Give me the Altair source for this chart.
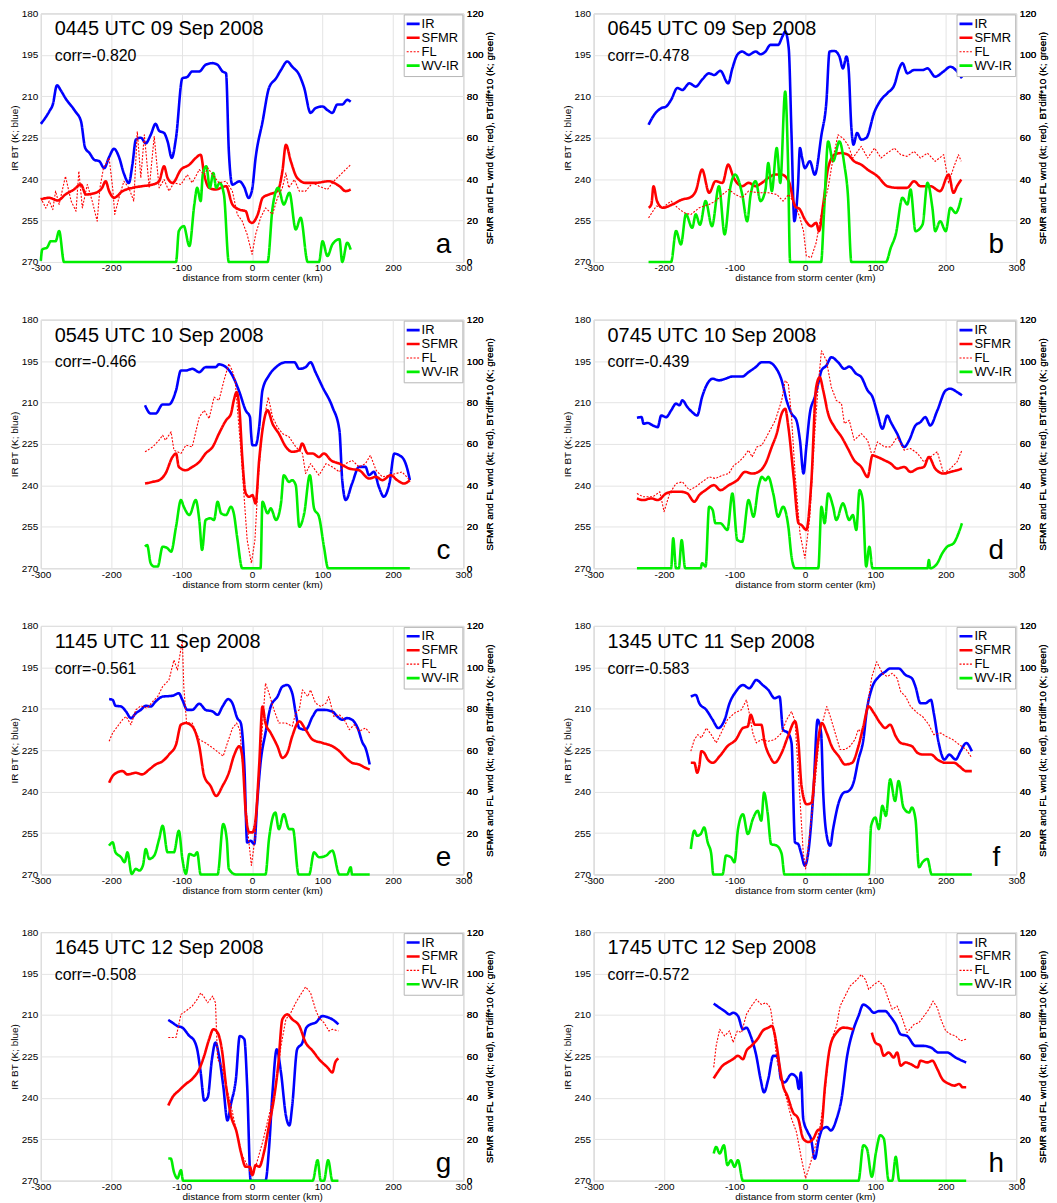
import altair as alt
import pandas as pd

FONT = "Liberation Sans"
SERIES = ["IR", "SFMR", "FL", "WV-IR"]
COLORS = ["#0000ff", "#ff0000", "#ff0000", "#00ee00"]
DASHES = [[1, 0], [1, 0], [2, 1.5], [1, 0]]

X_TICKS = [-300, -200, -100, 0, 100, 200, 300]
IR_TICKS = [180, 195, 210, 225, 240, 255, 270]
WIND_TICKS = [0, 20, 40, 60, 80, 100, 120]

LETTERS = ["a", "b", "c", "d", "e", "f", "g", "h"]
TIMES = ["0445 UTC 09 Sep 2008", "0645 UTC 09 Sep 2008", "0545 UTC 10 Sep 2008",
         "0745 UTC 10 Sep 2008", "1145 UTC 11 Sep 2008", "1345 UTC 11 Sep 2008",
         "1645 UTC 12 Sep 2008", "1745 UTC 12 Sep 2008"]
CORRS = ["-0.820", "-0.478", "-0.466", "-0.439", "-0.561", "-0.583", "-0.508", "-0.572"]

# ---------------- panel a ----------------
a_ir = [(-300,220),(-288,215.5),(-283,213),(-277,206),(-272,207.7),(-265,210.7),(-251,215.5),(-243,219),(-237,228.7),(-231,230.5),(-224,233),(-217,233.5),(-210,236),(-203,232),(-196,229),(-189,232),(-182,238),(-175,241.4),(-170,234.8),(-165,225.7),(-158,225),(-151,227),(-144,224),(-137,220),(-132,222.5),(-125,223.3),(-120,226.3),(-114,232.3),(-108,225),(-99,203.5),(-92,203),(-85,201),(-75,201),(-66,198.6),(-56,198),(-49,198.6),(-42,201),(-37,201.7),(-33,230),(-28,242),(-18,240.8),(-11,243),(-5,246.8),(0,243.8),(5,232.3),(15,219),(24,207),(34,203.5),(41,200.5),(50,197.4),(57,199.3),(67,202.3),(74,207),(83,216),(90,214.3),(100,213.7),(107,215),(114,216),(121,213),(128,213),(135,211.3),(140,212)]
a_sfmr = [(-300,30.2),(-288,31),(-276,29.7),(-265,32.6),(-253,35),(-243,37.4),(-236,32.6),(-222,33.4),(-213,35.8),(-208,39),(-203,34.2),(-196,31),(-184,34.2),(-170,35.8),(-156,36.6),(-141,37.4),(-132,39),(-125,46.2),(-120,40.6),(-113,38.2),(-101,44.6),(-89,47),(-80,50.2),(-73,51.8),(-68,42.2),(-61,35.8),(-52,35),(-37,36.6),(-28,27.8),(-18,25.3),(-9,24.5),(-4,19.7),(0,18.9),(8,22.9),(15,31),(24,32.6),(36,34.2),(43,43.8),(48,56.6),(55,48.6),(64,40.6),(76,38.2),(90,38.2),(109,39),(124,36.6),(133,34.2),(140,35)]
a_fl = [(-300,31),(-293,26),(-288,29.4),(-283,25.3),(-279,34.2),(-274,27.8),(-265,41.4),(-257,29.4),(-250,24.5),(-246,43.8),(-241,26.1),(-234,37.4),(-227,29.4),(-220,19.7),(-216,35.8),(-211,45.4),(-203,50.2),(-198,35.8),(-195,23),(-189,31),(-182,39),(-175,35.8),(-168,29.4),(-163,63),(-158,40.6),(-153,61.4),(-146,35.8),(-139,60.6),(-132,35.8),(-125,39.8),(-118,34.2),(-111,38.2),(-101,37.4),(-92,42.2),(-85,38.2),(-75,44.6),(-68,42.2),(-63,45.4),(-56,42.2),(-47,38.2),(-37,39),(-28,34.2),(-21,23),(-14,19.7),(-7,13.3),(0,3.7),(5,13.3),(12,21.3),(19,26.1),(29,23),(36,31),(43,35.8),(48,43),(52,35.8),(60,39.8),(67,34.2),(76,34.2),(86,38.2),(95,36.6),(107,35),(116,39),(128,43),(140,47)]
a_wv = [(-300,0.5),(-298,6),(-291,7),(-286,10),(-279,10),(-274,15),(-267,0),(-108,0),(-104,15),(-97,17.3),(-89,7.7),(-82,27.8),(-78,35.8),(-73,29.4),(-70,42.2),(-65,46.2),(-60,35.8),(-55,43),(-51,35.8),(-46,38.2),(-40,32.6),(-33,0),(22,0),(29,26),(37,35.8),(45,27.8),(53,33.4),(62,15.7),(69,21.3),(79,0),(95,0),(100,10),(107,2.9),(114,8.5),(124,11),(128,0),(135,9.3),(140,6)]

# ---------------- panel b ----------------
b_ir = [(-222,220.3),(-214,216.7),(-204,214.3),(-197,213.7),(-190,211.3),(-181,207),(-174,207.7),(-164,205.3),(-155,206.5),(-146,204),(-136,201.7),(-129,202.3),(-120,200.8),(-109,205.3),(-103,199.9),(-96,195),(-89,193.8),(-80,195),(-70,193.8),(-63,194.8),(-56,193.8),(-49,191.4),(-38,191.4),(-32,188.4),(-28,186.6),(-23,192.6),(-19,223.9),(-15,255.2),(-10,243.2),(-7,228.7),(-4,232.3),(0,236),(7,233.5),(14,238.4),(23.5,224),(30.5,212),(35,193.8),(42,193.6),(49,195.6),(54,199.9),(59,195.6),(62,199.9),(66,221.5),(69,227.5),(74,223.3),(80,225.7),(87,225.1),(99,215.5),(108,211.3),(117,208.9),(127,205.9),(134,199.9),(138.5,198),(145.5,201.7),(155,200.5),(167,200.5),(174,199.9),(185,202.9),(197,201),(206.5,199.3),(216,201),(223,203.5)]
b_sfmr = [(-222,26.2),(-218,27.8),(-215,36.6),(-210,29.4),(-202,26.2),(-188,27.8),(-174,30.2),(-164,31),(-155,34.2),(-146,44.6),(-136,33.4),(-127,39),(-117,38.2),(-109,47),(-101,40.6),(-89,36.6),(-80,38.2),(-70,36.6),(-61,38.2),(-52,40.6),(-42,42.2),(-33,42.2),(-23,39),(-14,27),(-7,25.3),(0,20.5),(9,17.3),(16,18.9),(20,14.9),(26,27.8),(33,45.4),(42,51.8),(52,52.6),(61,51.8),(70,48.6),(80,47),(89,44.6),(103,41.4),(117,36.6),(131,35.8),(145,35.8),(155,39),(164,36.6),(178,36.6),(192,34.2),(204,42.2),(211,33.4),(216,36.6),(222,39.8)]
b_fl = [(-222,21.3),(-211,27),(-202,26.2),(-190,29.4),(-181,26.2),(-171,23.7),(-162,22.9),(-150,26.2),(-136,27.8),(-127,29.4),(-117,32.6),(-108,35),(-99,32.6),(-89,31),(-80,34.2),(-66,33.4),(-52,33.4),(-40,32.6),(-31,29.4),(-23,32.6),(-14,27.8),(-7,21.3),(-2,14.9),(2,2.9),(9,2.1),(16,9.3),(23,22.9),(33,35.8),(40,50.2),(47,61.4),(54,59.8),(61,56.6),(68,50.2),(80,55.8),(89,50.2),(99,55),(108,50.2),(117,52.6),(127,55),(136,51.8),(145,51),(155,53.4),(164,50.2),(174,52.6),(185,48.6),(197,51.8),(204,38.2),(211,45.4),(218,51.8),(222,48.6)]
b_wv = [(-222,0),(-190,0),(-183,15),(-176,8.5),(-169,23),(-160,16.5),(-155,23),(-149,18),(-141,29.4),(-132,17.3),(-122,36.6),(-114,13.3),(-106,35.8),(-99,42.2),(-89,32.6),(-82,19.7),(-77,32.6),(-70,39),(-63,29.4),(-56,35),(-52,47.8),(-47,34.2),(-40,55),(-35,38.2),(-28,82.3),(-24,48.6),(-21,0),(23,0),(27,23),(33,58.2),(40,48.6),(49,58.2),(56,47),(61,32.6),(66,0),(115,0),(122,6.9),(129,13.3),(138.5,31),(145.5,27.8),(150,35),(157,14.9),(167,18),(174,38.2),(181,26.2),(185,14.9),(192,19.7),(200,14.9),(206.5,26.2),(214,23.7),(222,31)]

# ---------------- panel c ----------------
c_ir = [(-152,211),(-144,214),(-137,214),(-127,210.7),(-118,210.7),(-108,205.6),(-101,198.4),(-94,198.4),(-85,197.8),(-75,199),(-66,197.2),(-52,197.2),(-47,196.2),(-37,197.2),(-28,200.2),(-18,206.2),(-9,212.9),(-3,215.3),(-1.4,221.3),(0.5,225.5),(5,225.5),(10,218.9),(14.7,205.6),(24,200.2),(34,197.2),(48,195.4),(60,195.4),(67,197.8),(76,197.2),(83,195.4),(90,199),(100,204.4),(114,211.6),(124,220.1),(128,238.1),(133,245.3),(142,239.3),(152,233.3),(161,233.3),(166,236.3),(173,235.1),(180,240.5),(187,244.1),(195,239.3),(202,228.5),(209,229.1),(216,230.9),(222,235.7),(224,238.1)]
c_sfmr = [(-152,40.9),(-141,41.7),(-132,42.5),(-123,45.7),(-113,53.7),(-108,55.4),(-104,48.9),(-94,47.3),(-85,48.9),(-75,51.3),(-66,55.4),(-56,58.6),(-47,65),(-37,71.4),(-30,74.6),(-26,81),(-22,85),(-17.5,74.6),(-14,53.7),(-9,36.1),(-4,34.5),(0.5,35.3),(5,31.3),(10,52.1),(14.7,66.6),(22,76.2),(29,69.8),(38,65),(48,58.6),(57,56.2),(67,57),(71,60.2),(79,55.4),(86,55.4),(95,53.7),(102,55.4),(112,52.1),(124,50.5),(138,48.1),(152,47.3),(166,43.3),(176,44.1),(185,42.5),(197,44.9),(206,42.5),(216,40.9),(224,42.5)]
c_fl = [(-152,56.2),(-141,58.6),(-132,61.8),(-127,64.2),(-123,61.8),(-115,65.8),(-111,57),(-101,55.4),(-94,59.4),(-85,58.6),(-75,73),(-68,76.2),(-61,72.2),(-54,82.6),(-47,81),(-40,90.6),(-33,98.7),(-28,95.4),(-24,90.6),(-21,77.8),(-16,57),(-11,32.9),(-7,13.6),(-1,2.4),(4,13.6),(9,44.1),(14.7,68.2),(23,82.6),(29,73),(36,68.2),(43,65),(52.5,63.4),(62,58.6),(71.5,55.4),(76,45.7),(83,50.5),(95,44.9),(105,50.5),(114,48.9),(124,46.5),(133,50.5),(142,52.1),(152,48.9),(161,50.5),(168,54.5),(176,47.3),(185,44.1),(195,44.9),(204,45.7),(213,46.5),(224,42.5)]
c_wv = [(-152,10.4),(-149,11.2),(-144,2.4),(-139,0.8),(-134,0.8),(-127,10.4),(-120,9.6),(-115,8),(-108,20),(-101,32.9),(-97,29.7),(-89,25.7),(-80,32.9),(-75,23.3),(-71,8.8),(-66,23.3),(-59,24.1),(-54,23.3),(-49,32.1),(-44,26.5),(-37,25.7),(-30,29.7),(-26,26.5),(-21,14.4),(-14,0),(12,0),(14.7,32.1),(22,26.5),(26.5,28.9),(34,23.3),(41,31.3),(45,44.9),(52.5,41.7),(57,42.5),(62,40.1),(67,20),(74,26.5),(82,44.9),(88,28.9),(95,24.9),(102,10.4),(108,0),(224,0)]

# ---------------- panel d ----------------
d_ir = [(-238.5,215.5),(-232,215.3),(-229,217.7),(-223,217.4),(-216,218.3),(-209,218.9),(-204,214.7),(-197,215.3),(-190,212.9),(-183,210.4),(-178,211),(-174,209.2),(-167,211.6),(-160,213.5),(-153,214.7),(-146,208),(-138.5,203.2),(-131,201.4),(-122,202),(-113,201.4),(-103,200.6),(-89,200.6),(-80,199),(-70,197.2),(-61,195.4),(-52,195.4),(-42,197.2),(-33,202),(-26,209.2),(-19,214),(-12,216.5),(-7,223.7),(-2,235.7),(2,226.1),(7,214),(14,208),(20,202),(23.5,198.4),(30.5,196.6),(37.5,193.6),(47,195.4),(56,197.8),(63,197),(73,199.6),(80,200.8),(89,205.6),(96,208),(103,214),(110,219.5),(117,214.7),(122,217.1),(131,221.3),(141,226.1),(148,223.7),(157,218.3),(164,217.1),(171,215.3),(178,218.3),(188,212.9),(200,205.6),(206.5,205),(216,206.2),(223,207.4)]
d_sfmr = [(-238.5,33.7),(-230,32.9),(-218,33.7),(-209,32.9),(-197,36.1),(-188,36.9),(-176,36.9),(-167,36.1),(-157,32.1),(-150,35.3),(-141,37.7),(-129,40.1),(-120,37.7),(-108,40.1),(-96,42.5),(-85,46.5),(-75,45.7),(-66,46.5),(-56,50.5),(-47,58.6),(-40,65),(-33,74.6),(-28,77),(-23.5,68.2),(-16,44.1),(-9,21.7),(-5,20.9),(2,18.5),(9,40.9),(16,87.4),(21,92.2),(26,85.8),(33,74.6),(42,68.2),(52,63.4),(61,57.8),(70,52.1),(80,48.9),(89,44.1),(96,54.5),(103,53.7),(113,52.1),(122,50.5),(131,48.1),(141,48.9),(150,46.5),(160,48.1),(169,48.9),(176,53.7),(185,48.1),(197,45.7),(206.5,46.5),(216,47.3),(223,48.1)]
d_fl = [(-238.5,36.1),(-230,34.5),(-216,34.5),(-206,36.9),(-200,27.3),(-192,36.1),(-183,40.9),(-174,41.7),(-164,37.7),(-155,39.3),(-146,41.7),(-136,44.1),(-127,43.3),(-117,44.9),(-108,45.7),(-101,49.7),(-94,51.3),(-87,53.7),(-80,57),(-75,53.7),(-68,58.6),(-61,59.4),(-52,65),(-42,71.4),(-33,81),(-28,90.6),(-23.5,89),(-19,73),(-14,45.7),(-7,16.8),(0,4.8),(7,24.9),(14,65),(19,89),(23.5,105),(30.5,100.3),(37.5,87.4),(44.6,81),(52,79.4),(56,69.8),(63,71.4),(70,61.8),(80,65),(89,61.8),(96,53.7),(103,61),(113,58.6),(122,58.6),(131,63.4),(141,57),(150,57.8),(160,55.4),(169,51.3),(178,53.7),(188,56.2),(197,45.7),(206.5,48.1),(216,51.3),(223,57)]
d_wv = [(-238.5,0),(-190,0),(-187,14.4),(-183,0),(-179,0),(-175,13.6),(-170,0),(-148,0),(-146,2.4),(-141,0.8),(-136,29.7),(-131,28.1),(-127,21.7),(-120,21.7),(-110,18.5),(-103,36.1),(-96,13.6),(-89,12.8),(-80,32.9),(-73,24.9),(-66,39.3),(-61,44.1),(-56,42.5),(-52,44.1),(-45,36.1),(-38,24.9),(-31,29.7),(-23.5,20),(-19,5.6),(-14,0),(19,0),(23.5,29.7),(28,21.7),(33,36.1),(40,29.7),(44.6,23.3),(54,31.3),(63,23.3),(68,25.7),(73,18.5),(77.5,37.7),(82,32.9),(87,0.8),(91.5,10.4),(96,0),(174,0),(176,4),(178,0),(188,2.4),(195,7.2),(202,10.4),(211,12),(218,16.8),(223,21.7)]

# ---------------- panel e ----------------
e_ir = [(-203,206.5),(-198,206.8),(-194,208.9),(-186,209.2),(-179,211),(-172,213.4),(-165,211.6),(-158,210.4),(-151,208.9),(-144,209.2),(-137,207.4),(-127,205.6),(-113,205.3),(-104,204.4),(-99,206.8),(-92,210.4),(-85,210.4),(-75,208.2),(-66,210.4),(-56,211),(-49,212.2),(-42,209.2),(-34,206.5),(-28,208),(-21,213.4),(-16,215.2),(-11,230.8),(-7,258.4),(-2,257.8),(3,259),(7.6,242.8),(12,229.6),(19,218.8),(26.5,209.2),(36,205.6),(43,202),(50,201.4),(57,204.4),(62,211.6),(67,217),(76,217.6),(86,212.8),(93,210.4),(102,210.4),(114,211),(121,212.8),(128,214),(135,213.4),(142,214),(150,217),(157,222.4),(161,224.2),(167,230.2)]
e_sfmr = [(-203,44.3),(-196,48.3),(-184,49.9),(-177,48.3),(-165,49.1),(-156,48.3),(-146,50.7),(-137,53.1),(-127,54.7),(-118,57.9),(-108,62.7),(-101,72.3),(-94,73.1),(-85,71.5),(-75,61.9),(-68,47.5),(-59,42.7),(-51,37.9),(-42,42.7),(-33,49.1),(-26,57.1),(-18,61.9),(-14,57.1),(-9,29.9),(-4,20.3),(0.5,20.3),(5,26.7),(10,52.3),(14.7,81.1),(19,73.1),(26.5,68.3),(36,61.9),(43,56.3),(50,58.7),(57,66.7),(67,73.9),(76,69.9),(86,65.1),(100,63.5),(114,61.9),(124,59.5),(133,56.3),(142,53.9),(152,53.1),(161,51.5),(167,50.7)]
e_fl = [(-203,64.3),(-198,68.3),(-191,71.5),(-184,74.7),(-179,76.3),(-172,72.3),(-165,79.5),(-158,81.4),(-149,80.3),(-141,83.5),(-134,85.9),(-127,90.7),(-118,93.9),(-111,103.5),(-106,98.7),(-99,113.1),(-97,90.7),(-93,73.1),(-85,73.1),(-75,65.1),(-66,63.5),(-56,61.1),(-47,58.7),(-41,57.1),(-35,63.5),(-28,70.5),(-22,73.1),(-17.5,69.9),(-11,42.7),(-5,17.1),(-1,4.3),(4,17.1),(10,47.5),(14.7,71.5),(19,92.3),(24,87.5),(31,79.5),(38,73.1),(48,73.1),(57,71.5),(62,78),(67,79.5),(71.5,89.1),(79,85.9),(83,89.1),(90,82.7),(97.5,81.1),(105,82.7),(109,85.9),(116,76.3),(124,77.1),(131,74.7),(138,69.9),(145,72.3),(152,69.1),(161,70.7),(167,68.3)]
e_wv = [(-203,13.9),(-198,15.5),(-194,10.7),(-186,8.3),(-181,5.9),(-177,10.7),(-171,0.3),(-165,2.7),(-160,1.9),(-155,4.3),(-151,12.3),(-146,7.5),(-139,9.1),(-132,17.1),(-127,23.5),(-120,10.7),(-111,10.7),(-104,21.1),(-99,7.5),(-94,0.3),(-89,9.9),(-82,9.1),(-78,10.7),(-73,0),(-49,0),(-41,24.3),(-36,17.1),(-33,2.7),(-23,0),(19,0),(24,17.1),(33,29.9),(38,21.9),(45,29.1),(52.5,21.9),(58,21.9),(66,0),(81,0),(88,10.7),(95,8.3),(105,9.1),(114,11.5),(124,0),(135,0),(140,3.5),(142,0),(167,0)]

# ---------------- panel f ----------------
f_ir = [(-162,205.6),(-155,205),(-150,208),(-140,210.4),(-131,214),(-123,217),(-114,214),(-107,208),(-98,203.8),(-88,201.4),(-79,202.6),(-69,199.6),(-60,201.4),(-52,203.2),(-43,206.2),(-36,205.6),(-31,217.6),(-24,218.8),(-19,222.4),(-14,258.4),(-9.5,259),(-5.7,262),(0,266.8),(4.8,262),(12,240.4),(18,214),(23,218.8),(26,240.4),(31,256),(36,259.6),(40,253.6),(48,244),(55,240.4),(62,239.8),(69,236.8),(76,228.4),(83,221.2),(88,210.4),(95,202.6),(105,198.4),(114,196.6),(121,195.4),(133,195.4),(143,197.8),(152,199),(157,202),(164,208),(171,208),(179,206.8),(183,211.6),(190,222.4),(198,228.4),(205,226.6),(214,228.4),(221,225.4),(229,222.4),(237,225.4)]
f_sfmr = [(-162,53.9),(-157,53.9),(-153,49.1),(-150,52.3),(-147,59.5),(-143,58.7),(-138,55.5),(-131,53.9),(-121,57.1),(-110,61.9),(-98,65.1),(-88,70.7),(-81,71.5),(-77,77.1),(-71,72.3),(-62,72.3),(-57,63.5),(-50,57.1),(-43,53.9),(-33,58.7),(-24,66.7),(-14,73.9),(-9.5,65.1),(-4.8,42.7),(2.4,33.9),(9.5,34.7),(14,49.1),(19,65.1),(24,73.1),(31,68.3),(38,61.9),(48,57.1),(57,53.1),(67,53.9),(76,61.9),(83,71.5),(90.5,81.1),(98,77.9),(107,73.1),(114,70.7),(121,72.3),(129,66.7),(136,63.5),(145,62.7),(152,61.9),(160,58.7),(167,57.9),(179,57.9),(188,55.5),(200,53.9),(212,53.9),(219,52.3),(229,49.9),(237,49.9)]
f_fl = [(-162,59.5),(-157,65.1),(-152,67.5),(-147,65.9),(-140,70.7),(-133,67.5),(-126,63.5),(-119,68.3),(-110,74.7),(-100,77.9),(-90,79.5),(-83,84.3),(-79,77.9),(-74,68.3),(-69,63.5),(-62,65.1),(-52,64.3),(-43,65.1),(-33,68.3),(-26,74.7),(-19,78.7),(-14,73.9),(-7,36.3),(-2.4,10.7),(1,2.7),(7,20.3),(14,42.7),(21,68.3),(26,74.7),(31,81.1),(36,76.3),(43,68.3),(50,60.3),(57,60.3),(64,61.9),(71,65.1),(76,70.1),(81,68.3),(88,79.5),(95,95.5),(102,102.7),(110,97.1),(117,95.5),(124,97.1),(131,94.7),(136,88.3),(143,85.9),(150,81.1),(160,77.9),(167,76.3),(176,72.3),(183,67.5),(193,68.3),(200,66.7),(210,65.1),(219,62.7),(229,60.3),(237,56.3)]
f_wv = [(-162,12.3),(-157,21.1),(-153,18.7),(-148,19.5),(-143,22.7),(-138,15.5),(-133,9.9),(-130,0),(-117,0),(-112,9.1),(-105,8.3),(-100,5.9),(-95,21.9),(-88,29.1),(-81,19.5),(-74,26.7),(-67,30.7),(-62,25.9),(-58,39.5),(-53,29.9),(-48,14.7),(-40,13.9),(-33,9.9),(-29,0),(90.5,0),(94,23.5),(100,27.5),(105,21.9),(110,33.1),(115,28.3),(121,45.9),(128,35.5),(133,45.1),(140,32.3),(148,29.9),(152,32.3),(157,26.7),(162,3.5),(167,5.9),(174,7.5),(180,0),(237,0)]

# ---------------- panel g ----------------
g_ir = [(-119,211.8),(-113,212.8),(-106,214),(-99,214.6),(-89,217.6),(-82,219.4),(-78,222.4),(-73,230.8),(-68,241),(-63,239.8),(-57,226),(-52,220),(-47,224.8),(-41,235.6),(-35,248.2),(-30,242.2),(-23,233.2),(-17.5,217.6),(-11,218.8),(-7,235.6),(-2,270),(19,270),(24,258.4),(29,238),(35,222.4),(41,230.8),(48,246.4),(53,250),(57,242.8),(64,222.4),(71.5,220),(77,214.6),(83,213.4),(90,212.8),(100,210.4),(109,211),(114,211.6),(122.6,213.4)]
g_sfmr = [(-119,36.3),(-113,40.3),(-104,43.5),(-94,46.7),(-85,49.1),(-75,53.9),(-68,60.3),(-61,68.3),(-55,73.1),(-49,71.5),(-43,63.5),(-37,45.9),(-30,31.5),(-22,23.5),(-16,13.9),(-9,6.7),(-3,6.7),(0.5,2.7),(5,7.5),(10,6.7),(17,13.9),(24,26.7),(31,39.5),(37,55.5),(43,77.9),(50,80.3),(57,77.9),(67,74.7),(76,66.7),(86,62.7),(95,58.7),(107,54.7),(114,52.3),(118,57.1),(122.6,59)]
g_fl = [(-119,69.1),(-108,69.1),(-101,80.3),(-94,81.9),(-85,84.3),(-78,87.5),(-73,90.7),(-69,89.1),(-63,85.9),(-56,89.1),(-52,85.9),(-49,58.7),(-43,55.5),(-37,45.9),(-30,36.3),(-22,23.5),(-14,12.3),(-7,7.5),(-1,2.7),(5,6.7),(15,18.7),(24,31.5),(34,45.9),(41,65.1),(48,77.9),(55,81.1),(62,85.9),(69,89.9),(76,93.6),(83,90.7),(90,82.7),(95,78.7),(102,76.3),(109,72.3),(114,73.1),(122.6,72.3)]
g_wv = [(-119,10.7),(-115.5,10.7),(-111,4.3),(-106,1.1),(-101,5.1),(-98,0),(86,0),(93,9.9),(97.5,0),(102,0),(108,9.9),(114,0),(122.6,0)]

# ---------------- panel h ----------------
h_ir = [(-129.5,205.9),(-121,207.4),(-114,208.6),(-107,209.8),(-102,209.2),(-95,210.4),(-88,215.2),(-83,214.6),(-77,217.6),(-69,224.8),(-63,233.2),(-58,238),(-52,233.2),(-45,224.8),(-39,224.8),(-34,233.2),(-29,234.4),(-19,231.4),(-12,232.6),(-8.6,236.8),(-5.7,230.8),(-2.4,247.6),(4,252.4),(8.6,254.8),(14,262),(20,254.8),(25,251.2),(31,250.6),(37,251.8),(45,247.6),(52,240.4),(60,224.8),(69,215.2),(76,210.4),(83,206.2),(90.5,207.4),(98,209.2),(105,208.6),(114,208.6),(121,210.4),(129,213.4),(136,217),(145,217.6),(157,221.2),(169,221.2),(179,221.8),(190,223.6),(202,223.6),(214,225.4),(229,227.2)]
h_sfmr = [(-129.5,49.4),(-124,52.3),(-117,55.5),(-110,57.1),(-102,58.7),(-95,60.3),(-88,58.7),(-83,62.7),(-76,65.1),(-67,68.5),(-60,72.3),(-52,73.9),(-47,74.7),(-40,65.1),(-36,55.5),(-31,45.9),(-25,41.1),(-17,33.1),(-9.5,29.9),(-2.4,20.3),(4.8,18.7),(12,20.3),(18,24.3),(23,25.1),(28.6,45.9),(36,65.1),(45,71.5),(55,73.9),(69,73.1),None,(95,71.5),(100,66.7),(107,65.1),(112,60.3),(119,61.9),(126,59.5),(131,61.9),(136,55.5),(143,57.1),(150,56.3),(160,54.7),(164,57.9),(174,57.1),(181,57.9),(188,53.9),(195,49.1),(205,46.7),(212,45.9),(219,46.7),(224,45.1),(229,45.1)]
h_fl = [(-129.5,54.7),(-126,65.1),(-121,73.1),(-114,69.9),(-107,72.3),(-102,66.7),(-96,72.3),(-90,71.5),(-83,80.3),(-76,84.3),(-69,87.5),(-62,85.1),(-55,85.9),(-49,83.5),(-45,74.7),(-40,58.7),(-33,47.5),(-26,39.5),(-19,29.9),(-12,23.5),(-5,10.7),(1,1.1),(7,7.5),(14,15.5),(21,25.1),(28.6,42.7),(33,58.7),(38,68.3),(45,74.7),(50,84.3),(57,89.1),(64,93.9),(74,97.1),(80,99.5),(86,97.1),(90.5,92.3),(98,94.7),(105,96.3),(112,93.9),(117,89.1),(124,82.7),(131,84.3),(138,78.7),(145,71.5),(155,75.5),(162,76.3),(169,79.5),(176,82.7),(182,86.7),(188,83.5),(193,77.9),(200,72.3),(207,70.7),(214,69.9),(221,67.5),(229,68.3)]
h_wv = [(-129.5,13.1),(-126,16.3),(-121,13.1),(-115,17.1),(-110,7.5),(-105,9.9),(-100,6.7),(-95,9.9),(-88,0),(76,0),(83,17.1),(88,15.5),(95,1.9),(101,13.9),(107,21.9),(112,20.3),(119,0),(124,0),(129,11.5),(134,0),(229,0)]

PANEL_DATA = [
    (a_ir, a_sfmr, a_fl, a_wv), (b_ir, b_sfmr, b_fl, b_wv),
    (c_ir, c_sfmr, c_fl, c_wv), (d_ir, d_sfmr, d_fl, d_wv),
    (e_ir, e_sfmr, e_fl, e_wv), (f_ir, f_sfmr, f_fl, f_wv),
    (g_ir, g_sfmr, g_fl, g_wv), (h_ir, h_sfmr, h_fl, h_wv),
]

PW, PH = 425, 250
THICK, THIN = 2.6, 1.1


def build_frame(series_lists):
    rows = []
    for name, pts in zip(SERIES, series_lists):
        seg = 0
        for i, p in enumerate(pts):
            if p is None:
                seg += 1
                continue
            rows.append({"x": p[0], "v": p[1], "series": name,
                         "seg": f"{name}-{seg}", "i": i})
    return pd.DataFrame(rows)


def make_panel(letter, time, corr, lists):
    df = build_frame(lists)
    xenc = alt.X("x:Q", scale=alt.Scale(domain=[-300, 300], nice=False, zero=False),
                 axis=alt.Axis(values=X_TICKS, title="distance from storm center (km)",
                               labelExpr="'' + datum.value"))
    leg = alt.Legend(
        title=None, orient="top-right",
        symbolStrokeWidth=alt.ExprRef(expr=f"datum.label == 'FL' ? {THIN} : {THICK}"))
    color = alt.Color("series:N", scale=alt.Scale(domain=SERIES, range=COLORS), legend=leg)
    dash = alt.StrokeDash("series:N", scale=alt.Scale(domain=SERIES, range=DASHES), legend=leg)
    wind_y = alt.Y("v:Q", scale=alt.Scale(domain=[0, 120], nice=False, zero=False),
                   axis=alt.Axis(values=WIND_TICKS,
                                 title="SFMR and FL wnd (kt; red), BTdiff*10 (K; green)",
                                 orient="right", grid=False, titleAngle=270,
                                 titleBaseline="top",
                                 labelExpr="'' + datum.value"))
    base = alt.Chart(df)
    ir_layer = base.transform_filter(alt.datum.series == "IR").mark_line(
        strokeWidth=THICK, interpolate="monotone").encode(
        x=xenc,
        y=alt.Y("v:Q", scale=alt.Scale(domain=[180, 270], reverse=True, nice=False, zero=False),
                axis=alt.Axis(values=IR_TICKS, title="IR BT (K; blue)", orient="left",
                              labelExpr="'' + datum.value")),
        color=color, strokeDash=dash, detail="seg:N", order="i:Q")
    thick_layer = base.transform_filter(
        (alt.datum.series == "SFMR") | (alt.datum.series == "WV-IR")).mark_line(
        strokeWidth=THICK, interpolate="monotone").encode(
        x=xenc, y=wind_y, color=color, strokeDash=dash, detail="seg:N", order="i:Q")
    thin_layer = base.transform_filter(alt.datum.series == "FL").mark_line(
        strokeWidth=THIN).encode(
        x=xenc, y=wind_y, color=color, strokeDash=dash, detail="seg:N", order="i:Q")
    t_title = alt.Chart(pd.DataFrame({"t": [time]})).mark_text(
        align="left", baseline="alphabetic", fontSize=20, font=FONT, color="black"
    ).encode(x=alt.value(14), y=alt.value(22), text="t:N")
    t_corr = alt.Chart(pd.DataFrame({"t": ["corr=" + corr]})).mark_text(
        align="left", baseline="alphabetic", fontSize=16, font=FONT, color="black"
    ).encode(x=alt.value(14), y=alt.value(48), text="t:N")
    t_letter = alt.Chart(pd.DataFrame({"t": [letter]})).mark_text(
        align="center", baseline="alphabetic", fontSize=28, font=FONT, color="black"
    ).encode(x=alt.value(PW - 20), y=alt.value(PH - 9), text="t:N")
    return alt.layer(ir_layer, thick_layer, thin_layer, t_title, t_corr, t_letter).resolve_scale(
        y="independent").properties(width=PW, height=PH)


panels = [make_panel(LETTERS[k], TIMES[k], CORRS[k], PANEL_DATA[k]) for k in range(8)]

rows = []
for r in range(4):
    rows.append(alt.hconcat(panels[2 * r], panels[2 * r + 1], spacing=65).resolve_scale(
        color="independent", strokeDash="independent"))

chart = alt.vconcat(*rows, spacing=30).resolve_scale(
    color="independent", strokeDash="independent"
).configure(
    font=FONT, background="white",
    padding={"left": 0, "top": -4, "right": 0, "bottom": 0}
).configure_view(
    stroke="#bdbdbd", strokeWidth=1
).configure_axis(
    labelFont=FONT, titleFont=FONT, labelFontSize=10, titleFontSize=10,
    labelColor="#000000", titleColor="#000000", titleFontWeight="normal",
    domain=False, ticks=False, gridColor="#e4e4e4", gridWidth=1,
    labelPadding=3, titlePadding=2, labelFlush=False, labelOverlap=False
).configure_axisX(
    labelPadding=1, titlePadding=0
).configure_legend(
    orient="top-right", offset=1, padding=3, strokeColor="#b5b5b5", fillColor="white",
    labelFont=FONT, labelFontSize=13, labelColor="#000000", symbolType="stroke",
    symbolSize=170, rowPadding=0, labelOffset=2, cornerRadius=0
).configure_line(
    strokeJoin="round", strokeCap="butt"
)

chart.save("out.html", embed_options={"renderer": "svg", "actions": False})
